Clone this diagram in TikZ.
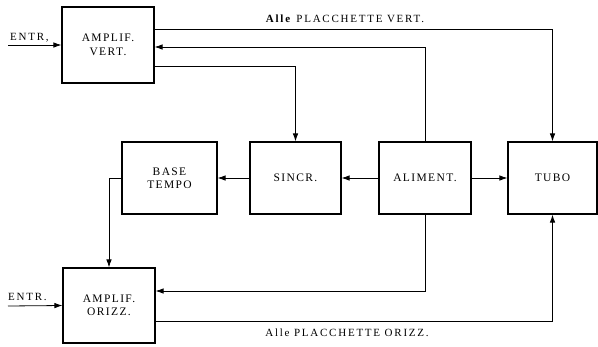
\documentclass[tikz,border=0pt]{standalone}
\usepackage{fontspec}
\setmainfont{Liberation Serif}
\newfontfamily\boxfont[LetterSpace=12]{Liberation Serif}
\newfontfamily\lblfont[LetterSpace=16]{Liberation Serif}
\usetikzlibrary{arrows.meta}
\begin{document}
\begin{tikzpicture}[x=1pt,y=-1pt,
  blk/.style={draw,line width=1.1pt,minimum width=92pt,minimum height=72pt,inner sep=0pt,align=center,font=\boxfont\fontsize{11.5}{13.5}\selectfont},
  wire/.style={line width=0.8pt},
  arr/.style={wire,-{Latex[length=8pt,width=5.5pt]}},
  lbl/.style={font=\lblfont\fontsize{11}{12}\selectfont,inner sep=0pt}]
\useasboundingbox (0,0) rectangle (598,346);
\node[blk,minimum height=76pt] (av) at (108,45) {AMPLIF.\\VERT.};
\node[blk,minimum width=95pt] (bt) at (169.5,178) {BASE\\TEMPO};
\node[blk,minimum width=91pt] (si) at (295.5,178) {SINCR.};
\node[blk] (al) at (425,178) {ALIMENT.};
\node[blk,minimum width=89pt] (tu) at (552.5,178) {TUBO};
\node[blk,minimum height=75pt] (ao) at (109,305.5) {AMPLIF.\\ORIZZ.};
\coordinate (e1) at (8,45);
\coordinate (e2) at (8,306);
\node[lbl,anchor=base west] (le1) at (10,40) {ENTR,};
\node[lbl,anchor=base west] (le2) at (8,300) {ENTR.};
\node[lbl,anchor=base] (lv) at (345,22) {\textbf{Alle} PLACCHETTE VERT.};
\node[lbl,anchor=base] (lo) at (347,336) {Alle PLACCHETTE ORIZZ.};
\draw[arr] (e1) -- (av.west);
\draw[arr] (e2) -- (ao.west);
\draw[arr] (av.east |- 0,29) -| (tu.north);
\draw[arr] (al.north) |- (av.east |- 0,47);
\draw[arr] (av.east |- 0,66) -| (si.north);
\draw[arr] (al.west) -- (si.east);
\draw[arr] (si.west) -- (bt.east);
\draw[arr] (al.east) -- (tu.west);
\draw[arr] (bt.west) -| (ao.north);
\draw[arr] (al.south) |- (ao.east |- 0,291);
\draw[arr] (ao.east |- 0,321) -| (tu.south);
\end{tikzpicture}
\end{document}
